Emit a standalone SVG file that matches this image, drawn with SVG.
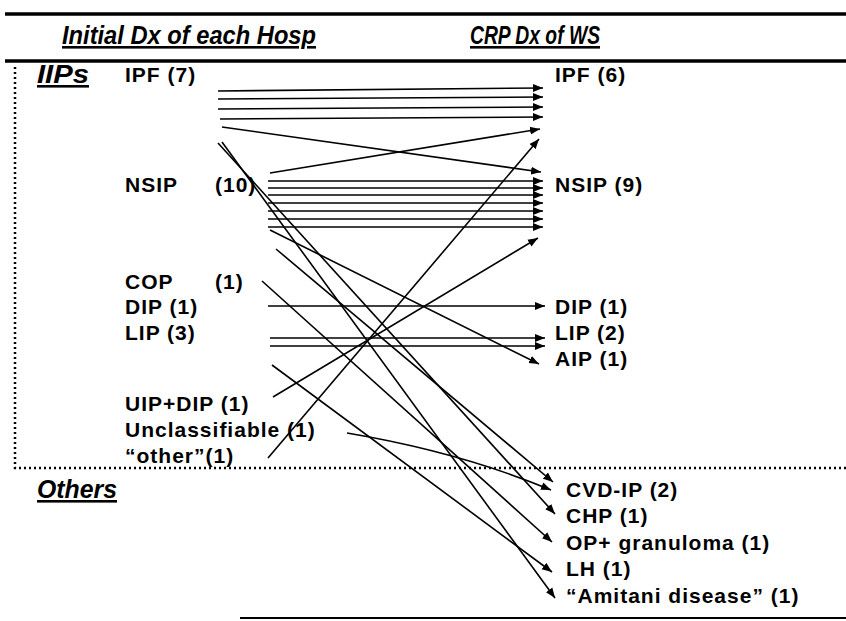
<svg xmlns="http://www.w3.org/2000/svg" width="846" height="621" viewBox="0 0 846 621">
<defs>
<marker id="ah" markerUnits="userSpaceOnUse" markerWidth="11" markerHeight="9" refX="10" refY="4.5" orient="auto">
<path d="M0,0.5 L10,4.5 L0,8.5 z" fill="#000"/>
</marker>
<style>
.lb{font-family:"Liberation Sans",Arial,sans-serif;font-weight:bold;font-size:21px;letter-spacing:1px;fill:#000}
.hd{font-family:"Liberation Sans",Arial,sans-serif;font-weight:bold;font-style:italic;font-size:26px;fill:#000;text-decoration:underline}
.cn line,.cn path{stroke:#000;stroke-width:1.6;fill:none;marker-end:url(#ah)}
.rule{stroke:#000;fill:none}
</style>
</defs>
<rect width="846" height="621" fill="#fff"/>
<g id="frame">
<line class="rule" x1="5" y1="14" x2="846" y2="14" stroke-width="3.5"/>
<line class="rule" x1="5" y1="61" x2="846" y2="61" stroke-width="3.5"/>
<path class="rule" d="M15,67 V468 H846" stroke-width="2.5" stroke-dasharray="2 3"/>
<line class="rule" x1="240" y1="618" x2="846" y2="618" stroke-width="2"/>
</g>
<g id="headers">
<text class="hd" x="62" y="44" textLength="254" lengthAdjust="spacingAndGlyphs">Initial Dx of each Hosp</text>
<text class="hd" x="470" y="44" textLength="130" lengthAdjust="spacingAndGlyphs">CRP Dx of WS</text>
<text class="hd" x="37" y="83" textLength="52" lengthAdjust="spacingAndGlyphs">IIPs</text>
<text class="hd" x="37" y="498" textLength="80" lengthAdjust="spacingAndGlyphs">Others</text>
</g>
<g id="src-IPF"><text class="lb" x="125" y="82">IPF (7)</text></g>
<g id="src-NSIP"><text class="lb" x="125" y="192">NSIP</text><text class="lb" x="215" y="192">(10)</text></g>
<g id="src-COP"><text class="lb" x="125" y="289">COP</text><text class="lb" x="215" y="289">(1)</text></g>
<g id="src-DIP"><text class="lb" x="125" y="314">DIP (1)</text></g>
<g id="src-LIP"><text class="lb" x="125" y="340">LIP (3)</text></g>
<g id="src-UIPDIP"><text class="lb" x="125" y="411">UIP+DIP (1)</text></g>
<g id="src-Uncl"><text class="lb" x="125" y="437">Unclassifiable (1)</text></g>
<g id="src-other"><text class="lb" x="125" y="463">“other”(1)</text></g>
<g id="dst-IPF"><text class="lb" x="555" y="82">IPF (6)</text></g>
<g id="dst-NSIP"><text class="lb" x="555" y="192">NSIP (9)</text></g>
<g id="dst-DIP"><text class="lb" x="555" y="314">DIP (1)</text></g>
<g id="dst-LIP"><text class="lb" x="555" y="340">LIP (2)</text></g>
<g id="dst-AIP"><text class="lb" x="555" y="366">AIP (1)</text></g>
<g id="dst-CVD"><text class="lb" x="566" y="497">CVD-IP (2)</text></g>
<g id="dst-CHP"><text class="lb" x="566" y="523">CHP (1)</text></g>
<g id="dst-OP"><text class="lb" x="566" y="550">OP+ granuloma (1)</text></g>
<g id="dst-LH"><text class="lb" x="566" y="576">LH (1)</text></g>
<g id="dst-Amitani"><text class="lb" x="566" y="603">“Amitani disease” (1)</text></g>
<g id="connectors" class="cn">
<line x1="218" y1="91" x2="543" y2="88"/>
<line x1="218" y1="99" x2="543" y2="97"/>
<line x1="218" y1="109" x2="543" y2="107"/>
<line x1="220" y1="119" x2="543" y2="117"/>
<line x1="222" y1="127" x2="541" y2="172"/>
<line x1="218" y1="143" x2="555" y2="514"/>
<line x1="222" y1="142" x2="555" y2="598"/>
<line x1="270" y1="173" x2="540" y2="129"/>
<line x1="268" y1="181" x2="543" y2="181"/>
<line x1="268" y1="188" x2="543" y2="188"/>
<line x1="268" y1="195" x2="543" y2="195"/>
<line x1="268" y1="203" x2="543" y2="203"/>
<line x1="268" y1="211" x2="543" y2="211"/>
<line x1="268" y1="219" x2="543" y2="219"/>
<line x1="268" y1="227" x2="543" y2="227"/>
<line x1="270" y1="230" x2="539" y2="364"/>
<line x1="276" y1="249" x2="553" y2="482"/>
<line x1="262" y1="281" x2="552" y2="542"/>
<line x1="268" y1="306" x2="545" y2="306"/>
<line x1="270" y1="338" x2="545" y2="338"/>
<line x1="270" y1="346" x2="545" y2="346"/>
<line x1="272" y1="365" x2="552" y2="572"/>
<line x1="273" y1="397" x2="538" y2="238"/>
<path d="M347,433 Q460,452 551,490"/>
<line x1="268" y1="458" x2="539" y2="139"/>
</g>
</svg>
